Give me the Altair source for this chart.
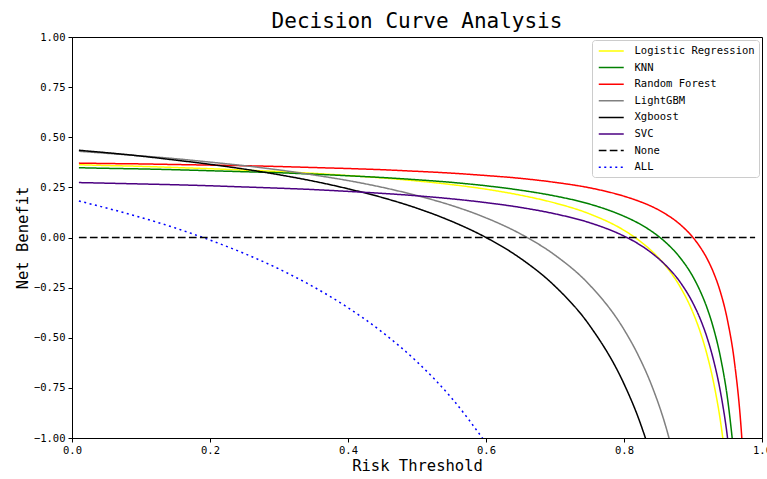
import altair as alt
import pandas as pd

# Risk thresholds (x) at which curve values were read
thresholds = [0.01, 0.05, 0.10, 0.15, 0.20, 0.25, 0.30, 0.35, 0.40, 0.45,
              0.50, 0.55, 0.60, 0.65, 0.70, 0.75, 0.80, 0.82, 0.84, 0.86,
              0.88, 0.90, 0.91, 0.92, 0.93, 0.94, 0.95, 0.96, 0.97, 0.975]

logistic = [0.363, 0.359, 0.355, 0.349, 0.343, 0.336, 0.329, 0.320, 0.309, 0.297,
            0.282, 0.264, 0.241, 0.211, 0.172, 0.118, 0.036, -0.010, -0.067, -0.140,
            -0.238, -0.375, -0.466, -0.580, -0.726, -0.921, -1.195]
knn = [0.348, 0.345, 0.342, 0.338, 0.333, 0.328, 0.323, 0.316, 0.308, 0.299,
       0.288, 0.275, 0.258, 0.236, 0.207, 0.167, 0.106, 0.073, 0.031, -0.023,
       -0.095, -0.196, -0.264, -0.348, -0.456, -0.600, -0.802, -1.105]
random_forest = [0.371, 0.369, 0.367, 0.364, 0.361, 0.358, 0.354, 0.349, 0.344, 0.338,
                 0.330, 0.321, 0.309, 0.295, 0.275, 0.248, 0.206, 0.183, 0.155, 0.118,
                 0.069, 0.000, -0.046, -0.103, -0.177, -0.275, -0.413, -0.619, -0.963, -1.238]
lightgbm = [0.430, 0.420, 0.407, 0.393, 0.376, 0.358, 0.337, 0.312, 0.284, 0.250,
            0.209, 0.160, 0.098, 0.018, -0.088, -0.236, -0.459, -0.583, -0.737, -0.936,
            -1.201]
xgboost = [0.435, 0.423, 0.406, 0.386, 0.365, 0.341, 0.313, 0.281, 0.243, 0.199,
           0.146, 0.081, 0.000, -0.104, -0.243, -0.438, -0.730, -0.892, -1.095]
svc = [0.274, 0.271, 0.267, 0.263, 0.258, 0.252, 0.246, 0.239, 0.230, 0.220,
       0.208, 0.193, 0.174, 0.150, 0.118, 0.074, 0.007, -0.030, -0.077, -0.137,
       -0.216, -0.328, -0.402, -0.495, -0.615, -0.774, -0.998, -1.332]
treat_all = [0.182, 0.147, 0.100, 0.047, -0.013, -0.080, -0.157, -0.246, -0.350, -0.473,
             -0.620, -0.800, -1.025]
none_x = [0.01, 0.99]
none_y = [0.0, 0.0]

names = ["Logistic Regression", "KNN", "Random Forest", "LightGBM",
         "Xgboost", "SVC", "None", "ALL"]
colors = ["#ffff00", "#008000", "#ff0000", "#808080",
          "#000000", "#4b0082", "#000000", "#0000ff"]
dashes = [[1, 0], [1, 0], [1, 0], [1, 0], [1, 0], [1, 0], [7.7, 3.3], [2, 3.5]]

rows = []
for name, vals in [("Logistic Regression", logistic), ("KNN", knn),
                   ("Random Forest", random_forest), ("LightGBM", lightgbm),
                   ("Xgboost", xgboost), ("SVC", svc), ("ALL", treat_all)]:
    for t, v in zip(thresholds, vals):
        rows.append({"t": t, "nb": v, "model": name})
for t, v in zip(none_x, none_y):
    rows.append({"t": t, "nb": v, "model": "None"})
df = pd.DataFrame(rows)

FONT = "DejaVu Sans Mono"

legend = alt.Legend(
    title=None, orient="none", legendX=520, legendY=3,
    symbolType="M-2,0H2", symbolSize=156, symbolStrokeWidth=1.5, symbolOffset=8.25,
    labelFont=FONT, labelFontSize=10.5, labelColor="black", labelLimit=300, labelOffset=16.25,
    strokeColor="#cccccc", fillColor="white", padding=4, cornerRadius=3,
    rowPadding=3.6,
)

chart = alt.Chart(df).mark_line(clip=True, interpolate="monotone", strokeWidth=1.5).encode(
    x=alt.X("t:Q", scale=alt.Scale(domain=[0, 1], nice=False, zero=False),
            axis=alt.Axis(values=[0, 0.2, 0.4, 0.6, 0.8, 1.0], format=".1f",
                          title="Risk Threshold", labelFlush=False)),
    y=alt.Y("nb:Q", scale=alt.Scale(domain=[-1, 1], nice=False, zero=False),
            axis=alt.Axis(values=[-1, -0.75, -0.5, -0.25, 0, 0.25, 0.5, 0.75, 1.0],
                          format=".2f", title="Net Benefit", labelFlush=False)),
    color=alt.Color("model:N", scale=alt.Scale(domain=names, range=colors), legend=legend),
    strokeDash=alt.StrokeDash("model:N", scale=alt.Scale(domain=names, range=dashes), legend=legend),
    order=alt.Order("t:Q"),
).properties(
    width=690, height=401,
    title=alt.TitleParams("Decision Curve Analysis", font=FONT, fontSize=21,
                          fontWeight="normal", color="black", offset=0),
    autosize=alt.AutoSizeParams(type="none"),
    padding={"left": 72, "top": 37, "right": 5, "bottom": 41},
).configure_view(
    stroke="black", strokeWidth=1
).configure_axis(
    grid=False, domainColor="black", tickColor="black", tickSize=4,
    labelFont=FONT, labelFontSize=10.5, labelColor="black", labelPadding=3,
    titleFont=FONT, titleFontSize=15.5, titleFontWeight="normal", titleColor="black",
    titlePadding=3,
)

chart.save("out.html", embed_options={"renderer": "svg", "actions": False})
